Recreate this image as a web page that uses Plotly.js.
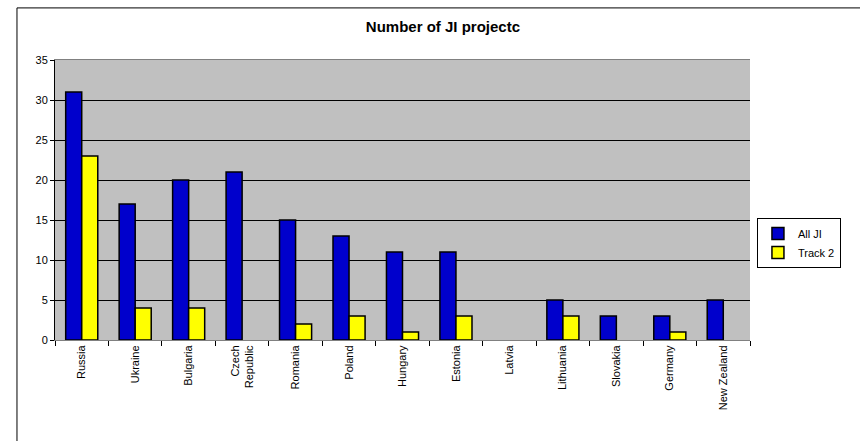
<!DOCTYPE html>
<html>
<head>
<meta charset="utf-8">
<script src="https://cdn.plot.ly/plotly-3.0.1.min.js"></script>
<style>html,body{margin:0;padding:0;background:#fff;}#chart{width:860px;height:441px;}</style>
</head>
<body>
<div id="chart"></div>
<script>
const categories = ["Russia", "Ukraine", "Bulgaria", "Czech<br>Republic", "Romania", "Poland", "Hungary", "Estonia", "Latvia", "Lithuania", "Slovakia", "Germany", "New Zealand"];
const allJI = [31, 17, 20, 21, 15, 13, 11, 11, 0, 5, 3, 3, 5];
const track2 = [23, 4, 4, 0, 2, 3, 1, 3, 0, 3, 0, 1, 0];
const yTicks = [0, 5, 10, 15, 20, 25, 30, 35];

const outline = vals => vals.map(v => v === 0 ? 0 : 1.5);

const traces = [
  {type: 'bar', name: 'All JI', x: categories, y: allJI,
   marker: {color: '#0000CC', line: {color: '#000', width: outline(allJI)}}},
  {type: 'bar', name: 'Track 2', x: categories, y: track2,
   marker: {color: '#FFFF00', line: {color: '#000', width: outline(track2)}}}
];

const layout = {
  width: 860, height: 441,
  margin: {l: 55, r: 110, t: 60, b: 101},
  paper_bgcolor: '#fff',
  plot_bgcolor: '#C0C0C0',
  font: {family: 'Liberation Sans, Arial, sans-serif', size: 10, color: '#000'},
  title: {text: '<b>Number of JI projectc</b>', font: {size: 15}, x: 0.515, xanchor: 'center', y: 0.94, yanchor: 'middle'},
  barmode: 'group',
  bargap: 0.4,
  bargroupgap: 0,
  showlegend: true,
  legend: {x: 1.01, xanchor: 'left', y: 0.346, yanchor: 'middle', bordercolor: '#000', borderwidth: 1,
           bgcolor: '#fff', font: {size: 11}, tracegroupgap: 6, itemwidth: 30},
  xaxis: {type: 'category', tickangle: -90, showline: true, linecolor: '#808080', linewidth: 1,
          mirror: true, ticks: 'outside', ticklen: 5, tickcolor: '#000', tickson: 'boundaries',
          tickfont: {size: 11}, showgrid: false},
  yaxis: {range: [0, 35], tickvals: yTicks, ticks: 'outside', ticklen: 4, tickcolor: '#000',
          showline: true, linecolor: '#000', linewidth: 1, gridcolor: '#000', gridwidth: 1,
          zeroline: false, tickfont: {size: 11}},
  shapes: [
    {type: 'rect', xref: 'paper', yref: 'paper', x0: -0.0547, x1: 2, y0: -2, y1: 1.186,
     line: {color: '#000', width: 1}, fillcolor: 'rgba(0,0,0,0)', layer: 'above'}
  ]
};

Plotly.newPlot('chart', traces, layout, {displayModeBar: false, staticPlot: true});
</script>
</body>
</html>
